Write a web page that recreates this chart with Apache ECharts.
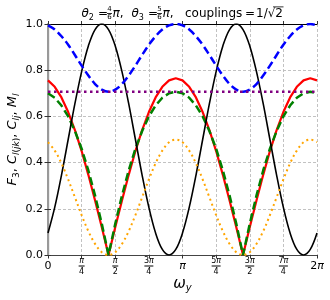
<!DOCTYPE html>
<html><head><meta charset="utf-8">
<script src="https://cdn.jsdelivr.net/npm/echarts/dist/echarts.min.js"></script>
<style>html,body{margin:0;padding:0;background:#fff}#c{width:330px;height:300px}</style>
</head><body><div id="c"></div>
<script>
// omega_y in units of pi
const omega = [0,0.05,0.1,0.15,0.2,0.25,0.3,0.35,0.4,0.45,0.5,0.55,0.6,0.65,0.7,0.75,0.8,0.85,0.9,0.95,1,
  1.05,1.1,1.15,1.2,1.25,1.3,1.35,1.4,1.45,1.5,1.55,1.6,1.65,1.7,1.75,1.8,1.85,1.9,1.95,2];
// black solid
const F3 = [0.095,0.206,0.345,0.5,0.655,0.794,0.905,0.976,1,0.976,0.905,0.794,0.655,0.5,0.345,0.206,0.095,0.024,0,0.024,
  0.095,0.206,0.345,0.5,0.655,0.794,0.905,0.976,1,0.976,0.905,0.794,0.655,0.5,0.345,0.206,0.095,0.024,0,0.024,0.095];
// red solid
const redC = [0.756,0.728,0.682,0.619,0.541,0.450,0.347,0.236,0.120,0,0.120,0.236,0.347,0.450,0.541,0.619,0.682,0.728,0.756,0.765,
  0.756,0.728,0.682,0.619,0.541,0.450,0.347,0.236,0.120,0,0.120,0.236,0.347,0.450,0.541,0.619,0.682,0.728,0.756,0.765,0.756];
// green dashed
const greenC = [0.700,0.681,0.647,0.600,0.537,0.460,0.366,0.257,0.135,0,0.135,0.257,0.366,0.460,0.537,0.600,0.647,0.681,0.700,0.707,
  0.700,0.681,0.647,0.600,0.537,0.460,0.366,0.257,0.135,0,0.135,0.257,0.366,0.460,0.537,0.600,0.647,0.681,0.700,0.707,0.700];
// blue dashed
const blueC = [0.994,0.976,0.947,0.910,0.866,0.820,0.777,0.740,0.716,0.707,0.716,0.740,0.777,0.820,0.866,0.910,0.947,0.976,0.994,1.000,
  0.994,0.976,0.947,0.910,0.866,0.820,0.777,0.740,0.716,0.707,0.716,0.740,0.777,0.820,0.866,0.910,0.947,0.976,0.994,1.000,0.994];
// orange dotted
const orangeC = [0.488,0.452,0.397,0.327,0.250,0.173,0.103,0.048,0.012,0,0.012,0.048,0.103,0.173,0.250,0.327,0.397,0.452,0.488,0.500,
  0.488,0.452,0.397,0.327,0.250,0.173,0.103,0.048,0.012,0,0.012,0.048,0.103,0.173,0.250,0.327,0.397,0.452,0.488,0.500,0.488];
// purple dotted (constant)
const purpleOmega = [0, 2];
const purpleM = [0.707, 0.707];

const xTickLabels = ['0','π/4','π/2','3π/4','π','5π/4','3π/2','7π/4','2π'];
const yTickLabels = ['0.0','0.2','0.4','0.6','0.8','1.0'];

const FONT = 'DejaVu Sans';
function xLabel(v){
  const s = xTickLabels[Math.round(v/0.25)];
  if (s === undefined) return '';
  if (s.indexOf('/') < 0) {
    const m = s.match(/^(\d*)(π?)$/);
    return (m[1] ? '{p|' + m[1] + '}' : '') + (m[2] ? '{pi|π}' : '');
  }
  const [num, den] = s.split('/');
  const m = num.match(/^(\d*)(π?)$/);
  const top = (m[1] ? '{n|' + m[1] + '}' : '') + (m[2] ? '{ni|π}' : '');
  return top + '\n{' + (m[1] ? 'bar2' : 'bar1') + '|}\n{d|' + den + '}';
}
const pairs = (xs, ys) => xs.map((x, i) => [x, ys[i]]);

const chart = echarts.init(document.getElementById('c'), null, {renderer: 'canvas'});
const txt = (x, y, text, rich, extra) => Object.assign({
  type: 'text', x: x, y: y,
  style: Object.assign({text: text, fontFamily: FONT, fontSize: 12, fill: '#000', verticalAlign: 'middle', rich: rich || {}}, extra || {})
});
const titleRich = {
  i: {fontFamily: FONT, fontSize: 12, fontStyle: 'italic', lineHeight: 16},
  s: {fontFamily: FONT, fontSize: 8, lineHeight: 16, verticalAlign: 'bottom'},
  r: {fontFamily: FONT, fontSize: 12, lineHeight: 16}
};
const TY = 14;
chart.setOption({
  animation: false,
  backgroundColor: '#fff',
  grid: {left: 48, right: 13, top: 24, bottom: 45, containLabel: false, outerBoundsMode: 'none'},
  xAxis: [{
    type: 'value', min: 0, max: 2, interval: 0.25, position: 'bottom',
    axisLine: {show: true, onZero: false, lineStyle: {color: '#444', width: 1.2}},
    axisTick: {show: true, inside: false, length: 3.5, lineStyle: {color: '#333', width: 1}},
    splitLine: {show: true, lineStyle: {color: '#bbb', width: 0.9, type: [3, 2]}},
    axisLabel: {
      formatter: xLabel, margin: 11, verticalAlign: 'middle', color: '#000',
      rich: {
        p: {fontFamily: FONT, fontSize: 11, color: '#000'},
        pi: {fontFamily: FONT, fontSize: 11, fontStyle: 'italic', color: '#000'},
        n: {fontFamily: FONT, fontSize: 8, lineHeight: 8, color: '#000'},
        ni: {fontFamily: FONT, fontSize: 8, fontStyle: 'italic', lineHeight: 8, color: '#000'},
        bar1: {width: 6, height: 1, lineHeight: 3, backgroundColor: '#000'},
        bar2: {width: 9, height: 1, lineHeight: 3, backgroundColor: '#000'},
        d: {fontFamily: FONT, fontSize: 8, lineHeight: 8, color: '#000'}
      }
    },
    name: '{i|ω}{s|y}', nameLocation: 'middle', nameGap: 20, nameMoveOverlap: false,
    nameTextStyle: {rich: {
      i: {fontFamily: FONT, fontSize: 15, fontStyle: 'italic', lineHeight: 18, color: '#000'},
      s: {fontFamily: FONT, fontSize: 10, fontStyle: 'italic', lineHeight: 18, verticalAlign: 'bottom', color: '#000'}
    }}
  }, {
    type: 'value', min: 0, max: 2, interval: 0.25, position: 'top',
    axisLine: {show: true, onZero: false, lineStyle: {color: '#000', width: 1}},
    axisTick: {show: true, inside: false, length: 3, lineStyle: {color: '#333'}},
    axisLabel: {show: false}, splitLine: {show: false}
  }],
  yAxis: [{
    type: 'value', min: 0, max: 1, interval: 0.2,
    axisLine: {show: true, lineStyle: {color: '#444', width: 1.2}},
    axisTick: {show: true, inside: false, length: 3.5, lineStyle: {color: '#333'}},
    splitLine: {show: true, lineStyle: {color: '#bbb', width: 0.9, type: [3, 2]}},
    axisLabel: {formatter: v => yTickLabels[Math.round(v / 0.2)], margin: 5, fontFamily: FONT, fontSize: 11, color: '#000'},
    name: '{i|F}{s|3}{r|, }{i|C}{si|l}{s|(}{si|jk}{s|)}{r|, }{i|C}{si|lj}{r|, }{i|M}{si|l}',
    nameLocation: 'middle', nameRotate: 90, nameGap: 27, nameMoveOverlap: false,
    nameTextStyle: {rich: {
      i: {fontFamily: FONT, fontSize: 13, fontStyle: 'italic', lineHeight: 17, color: '#000'},
      r: {fontFamily: FONT, fontSize: 13, lineHeight: 17, color: '#000'},
      s: {fontFamily: FONT, fontSize: 9, lineHeight: 17, verticalAlign: 'bottom', color: '#000'},
      si: {fontFamily: FONT, fontSize: 9, fontStyle: 'italic', lineHeight: 17, verticalAlign: 'bottom', color: '#000'}
    }}
  }, {
    type: 'value', min: 0, max: 1, interval: 0.2, position: 'right',
    axisLine: {show: true, lineStyle: {color: '#999', width: 2}},
    axisTick: {show: true, inside: false, length: 3, lineStyle: {color: '#333'}},
    axisLabel: {show: false}, splitLine: {show: false}
  }],
  graphic: [
    txt(81.5, TY, '{i|θ}{s|2}', titleRich),
    txt(98, TY, '='),
    txt(109.5, 9.5, '4', null, {fontSize: 7, align: 'center'}),
    {type: 'rect', shape: {x: 107, y: 13, width: 5, height: 0.8}, style: {fill: '#000'}},
    txt(109.5, 17.5, '6', null, {fontSize: 7, align: 'center'}),
    txt(112.5, TY, '{i|π}{r|,}', titleRich),
    txt(131.5, TY, '{i|θ}{s|3}', titleRich),
    txt(148, TY, '='),
    txt(159.5, 9.5, '5', null, {fontSize: 7, align: 'center'}),
    {type: 'rect', shape: {x: 157, y: 13, width: 5, height: 0.8}, style: {fill: '#000'}},
    txt(159.5, 17.5, '6', null, {fontSize: 7, align: 'center'}),
    txt(162.5, TY, '{i|π}{r|,}', titleRich),
    txt(185, TY, 'couplings'),
    txt(245, TY, '='),
    txt(256, TY, '1/√2'),
    {type: 'rect', shape: {x: 273, y: 6.5, width: 10.5, height: 0.8}, style: {fill: '#000'}}
  ],
  series: [
    {type: 'line', data: pairs(omega, redC), showSymbol: false, lineStyle: {color: '#ff0000', width: 2.2}},
    {type: 'line', data: pairs(omega, greenC), showSymbol: false, lineStyle: {color: '#008000', width: 2.5, type: [8, 4]}},
    {type: 'line', data: pairs(omega, F3), showSymbol: false, smooth: 0.35, lineStyle: {color: '#000', width: 1.6}},
    {type: 'line', data: pairs(omega, blueC), showSymbol: false, smooth: 0.35, lineStyle: {color: '#0000ff', width: 2.5, type: [8, 4]}},
    {type: 'line', data: pairs(purpleOmega, purpleM), showSymbol: false, lineStyle: {color: '#800080', width: 2.5, type: [2.5, 3.5]}},
    {type: 'line', data: pairs(omega, orangeC), showSymbol: false, smooth: 0.35, lineStyle: {color: '#ffa500', width: 2, type: [2, 3.3]}}
  ]
});
</script>
</body></html>
